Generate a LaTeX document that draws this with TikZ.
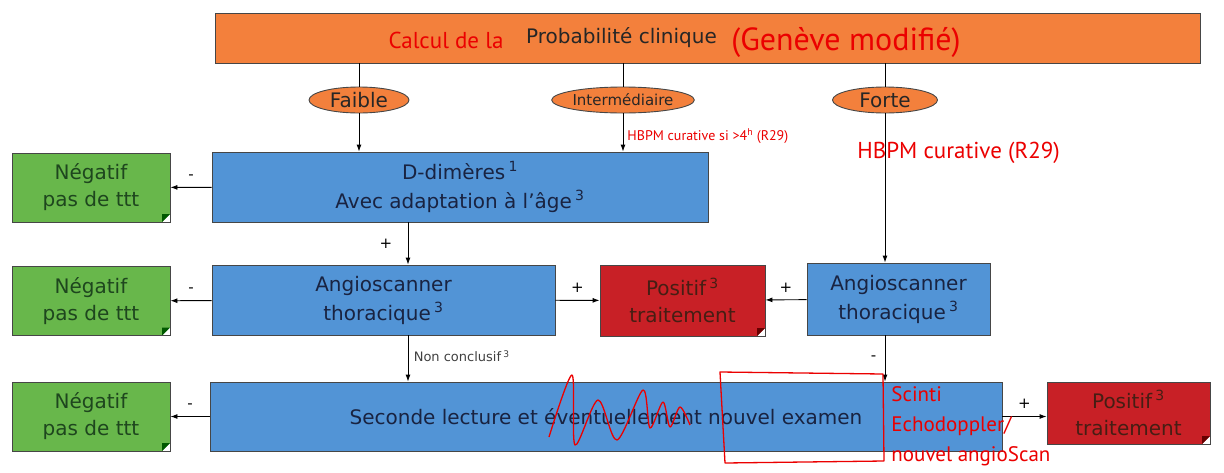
\documentclass[tikz,border=0pt]{standalone}
\usepackage{fontspec}
\setmainfont{DejaVu Sans}
\newfontfamily\handfont{PT Sans}
\usepackage{tikz}
\usetikzlibrary{arrows.meta,positioning,shapes.geometric}
\definecolor{probaorange}{RGB}{243,128,60}
\definecolor{examblue}{RGB}{82,148,214}
\definecolor{neggreen}{RGB}{104,183,75}
\definecolor{posred}{RGB}{200,32,38}
\definecolor{boxline}{RGB}{70,70,70}
\definecolor{bluetext}{RGB}{25,35,65}
\definecolor{greentext}{RGB}{30,70,30}
\definecolor{redtext}{RGB}{70,30,20}
\definecolor{annotred}{RGB}{235,0,0}
\tikzset{
  fold/.style={path picture={
    \coordinate (pc) at (path picture bounding box.south east);
    \fill[white] ([xshift=-8pt]pc) -- ([yshift=8pt]pc) -- (pc) -- cycle;
    \fill[#1] ([xshift=-8pt]pc) -- ([yshift=8pt]pc) -- ([shift={(-8pt,8pt)}]pc) -- cycle;}},
  hand/.style={text=annotred, font=\handfont\fontsize{#1}{#1}\selectfont, inner sep=0pt}
}

\begin{document}
\begin{tikzpicture}[x=1pt,y=-1pt,>={Latex[length=7pt,width=5pt]},line width=0.9pt,
   font=\fontsize{20}{29}\selectfont,
   topbox/.style={draw=boxline,fill=probaorange,minimum width=985pt,minimum height=50pt,inner sep=0pt,text=black!85},
   level/.style={ellipse,draw=boxline,fill=probaorange,minimum height=26pt,inner sep=0pt,text=black!85},
   exambox/.style={draw=boxline,fill=examblue,text=bluetext,align=center,minimum height=70pt,inner sep=0pt},
   negbox/.style={draw=boxline,fill=neggreen,text=greentext,align=center,fold=green!35!black,
     minimum width=158pt,minimum height=69pt,inner sep=0pt,font=\fontsize{20}{27}\selectfont},
   posbox/.style={draw=boxline,fill=posred,text=redtext,align=center,fold=red!40!black,
     minimum width=164pt,inner sep=0pt,font=\fontsize{20}{27}\selectfont},
   sign/.style={font=\fontsize{15}{15}\selectfont,text=black},
   annot/.style={draw=annotred,line width=1.3pt,line join=round}]
   \useasboundingbox (0,0) rectangle (1224,472);

   % probabilite clinique
   \node[topbox] (proba) at (707.5,38) {Probabilité clinique\hspace*{172pt}};
   \node[hand=23] (calc) at (446,40) {Calcul de la};
   \node[hand=32] (geneve) at (846,42) {(Genève modifié)};

   \node[level,minimum width=100pt] (faible) at (359,100) {Faible};
   \node[level,minimum width=135pt,font=\fontsize{15}{15}\selectfont] (inter) at (623,100) {Intermédiaire};
   \node[level,minimum width=105pt] (forte) at (885,100) {Forte};

   % examens
   \node[exambox,minimum width=496pt] (ddim) at (460,187)
     {D-dimères\,\textsuperscript{1}\\Avec adaptation à l'âge\,\textsuperscript{3}};
   \node[exambox,minimum width=343pt] (angioA) at (383.5,300)
     {Angioscanner\\thoracique\,\textsuperscript{3}};
   \node[exambox,minimum width=183pt,minimum height=72pt] (angioB) at (898.5,299)
     {Angioscanner\\thoracique\,\textsuperscript{3}};
   \node[exambox,minimum width=792pt,minimum height=69pt] (seconde) at (606,416.5)
     {Seconde lecture et éventuellement nouvel examen};

   % resultats
   \node[negbox] (neg1) at (91,187.5) {Négatif\\pas de ttt};
   \node[negbox] (neg2) at (91,301) {Négatif\\pas de ttt};
   \node[negbox] (neg3) at (91,416.5) {Négatif\\pas de ttt};
   \node[posbox,minimum height=71pt,minimum width=165pt] (pos1) at (682.5,300.5) {Positif\,\textsuperscript{3}\\traitement};
   \node[posbox,minimum height=62pt,minimum width=163pt] (pos2) at (1128.5,413) {Positif\,\textsuperscript{3}\\traitement};

   \coordinate (col) at (408,0);

   \draw (proba.south -| faible) -- (faible.north);
   \draw (proba.south -| inter) -- (inter.north);
   \draw (proba.south -| forte) -- (forte.north);
   \path[->]
    (faible) edge (ddim.north -| faible)
    (inter) edge (ddim.north -| inter)
    (forte) edge (angioB.north -| forte)
    (ddim) edge node[sign,above=4pt] {-} (neg1)
    (ddim.south -| col) edge node[sign,left=12pt] {+} (angioA.north -| col)
    (angioA) edge node[sign,above=4pt] {-} (neg2)
    (angioA) edge node[sign,above=4pt] {+} (pos1)
    (angioB) edge node[sign,above=4pt] {+} (pos1)
    (angioA.south -| col) edge node[right=2pt,pos=0.45,font=\fontsize{13}{13}\selectfont,text=black!75]
       {Non conclusif\,\textsuperscript{3}} (seconde.north -| col)
    (angioB.south -| forte) edge node[sign,left=5pt] {-} (seconde.north -| forte)
    (seconde.west |- neg3) edge node[sign,above=4pt] {-} (neg3)
    (seconde.east) edge node[sign,above=4pt] {+} (seconde.east -| pos2.west);

   % annotations
   \node[hand=14,anchor=west] (hbpm1) at (627,136) {HBPM curative si >4\textsuperscript{h} (R29)};
   \node[hand=23,anchor=west] (hbpm2) at (857,153) {HBPM curative (R29)};
   \node[hand=21,anchor=west,align=left,font=\handfont\fontsize{21}{30}\selectfont] (autres) at (891,426)
     {Scinti\\Echodoppler/\\nouvel angioScan};
   \draw[annot] plot[smooth,tension=0.5] coordinates {(549,437) (572,375) (575,445) (598,400) (617,440)
     (643,390) (650,428) (663,402) (670,427) (680,407) (690,425)};
   \draw[annot] (720,372) -- (725,463) -- (884,461) -- (883,374) -- cycle;
\end{tikzpicture}
\end{document}
